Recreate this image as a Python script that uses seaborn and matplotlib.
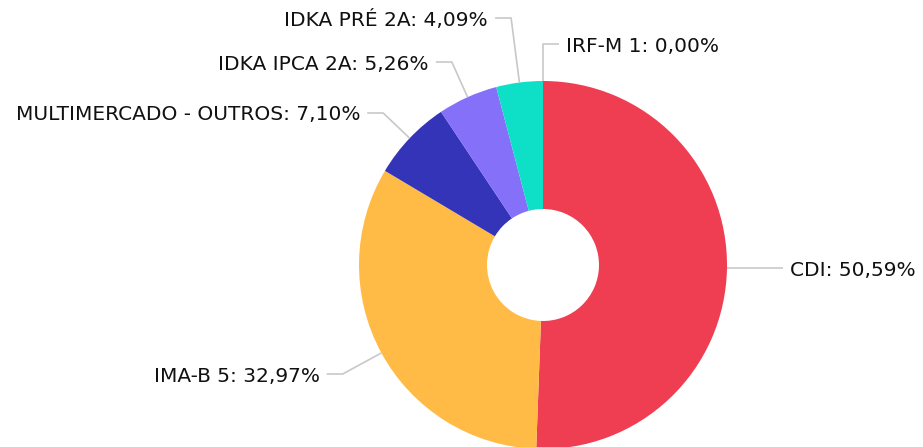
import numpy as np
import matplotlib
matplotlib.use('Agg')
import matplotlib.pyplot as plt
import seaborn as sns
sns.set_theme(style='white')
plt.rcParams['font.family'] = ['DejaVu Sans']

categories = ['CDI', 'IMA-B 5', 'MULTIMERCADO - OUTROS', 'IDKA IPCA 2A', 'IDKA PRÉ 2A', 'IRF-M 1']
shares = [50.59, 32.97, 7.10, 5.26, 4.09, 0.00]
colors = ['#EF3D52', '#FFBB45', '#3434B8', '#8570FA', '#0DE0C6', '#2F8FE0']

# label line heights (figure pixels from bottom), set to avoid overlap
label_y = [179, 73, 334, 385, 429, 403]

W, H = 923, 447
cx, cy = 543, 182
r_out, r_in = 184, 56

fig = plt.figure(figsize=(W / 100, H / 100), dpi=100)
ax = fig.add_axes([0, 0, 1, 1])
ax.pie(shares, colors=colors, startangle=90, counterclock=False,
       radius=r_out, center=(cx, cy),
       wedgeprops=dict(width=r_out - r_in, linewidth=0))
ax.set_xlim(0, W)
ax.set_ylim(0, H)
ax.set_aspect('equal')
ax.axis('off')

total = sum(shares)
start = 0.0
for name, v, ly in zip(categories, shares, label_y):
    frac = (start + v / 2) / total
    start += v
    ang = np.deg2rad(90 - 360 * frac)
    dx, dy = np.cos(ang), np.sin(ang)
    ax_x, ax_y = cx + r_out * dx, cy + r_out * dy
    if abs(dy) > 0.2:
        L1 = (ly - ax_y) / dy
    else:
        L1 = 40
        ly = ax_y
    ex, ey = ax_x + L1 * dx, ly
    side = 1 if dx >= -1e-9 else -1
    L2 = 16
    fx = ex + side * L2
    ax.plot([ax_x, ex, fx], [ax_y, ey, ey], color='#C8C8C8', lw=1.2,
            solid_capstyle='butt', zorder=1)
    txt = f'{name}: {v:.2f}%'.replace('.', ',')
    ax.text(fx + side * 7, ey - 2, txt, ha='left' if side > 0 else 'right',
            va='center', fontsize=14.5, color='#111111')

fig.savefig('out.png', dpi=100)
plt.close(fig)
